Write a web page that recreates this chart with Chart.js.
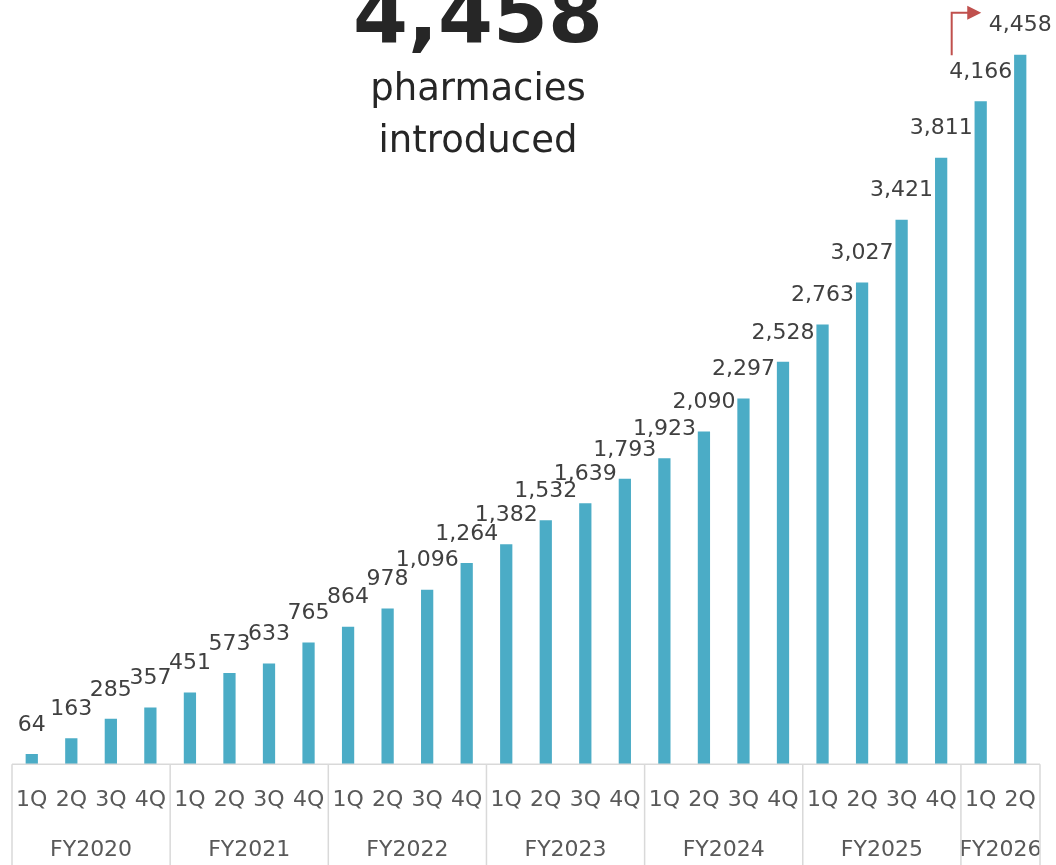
<!DOCTYPE html>
<html>
<head>
<meta charset="utf-8">
<script src="https://cdn.jsdelivr.net/npm/chart.js@4/dist/chart.umd.min.js"></script>
<style>
  body { margin: 0; background: #fff; }
  #wrap { position: relative; width: 1056px; height: 865px; overflow: hidden; }
  .head { position: absolute; left: 0; width: 956px; text-align: center; color: #262626;
          font-family: "DejaVu Sans", Verdana, sans-serif; line-height: 1; white-space: nowrap; }
  #big { top: -24px; font-size: 79px; font-weight: bold; }
  #sub1 { top: 69px; font-size: 37px; }
  #sub2 { top: 121px; font-size: 37px; }
</style>
</head>
<body>
<div id="wrap">
  <canvas id="bar-chart" width="1056" height="865"></canvas>
  <div class="head" id="big">4,458</div>
  <div class="head" id="sub1">pharmacies</div>
  <div class="head" id="sub2">introduced</div>
</div>
<script>
// quarter labels on the first axis row
const quarters = ['1Q', '2Q', '3Q', '4Q', '1Q', '2Q', '3Q', '4Q', '1Q', '2Q', '3Q', '4Q',
  '1Q', '2Q', '3Q', '4Q', '1Q', '2Q', '3Q', '4Q', '1Q', '2Q', '3Q', '4Q', '1Q', '2Q'];
// fiscal years and how many quarters each one has
const fiscalYears = ['FY2020', 'FY2021', 'FY2022', 'FY2023', 'FY2024', 'FY2025', 'FY2026'];
const quartersPerYear = [4, 4, 4, 4, 4, 4, 2];
// pharmacies introduced (cumulative)
const pharmacies = [64, 163, 285, 357, 451, 573, 633, 765, 864, 978, 1096, 1264, 1382,
  1532, 1639, 1793, 1923, 2090, 2297, 2528, 2763, 3027, 3421, 3811, 4166, 4458];

// start index of each year group, plus the end
let bounds = [0];
quartersPerYear.forEach(n => bounds.push(bounds[bounds.length - 1] + n));
const fyCenters = fiscalYears.map((fy, i) => (bounds[i] + bounds[i + 1] - 1) / 2);

const FONT = '"DejaVu Sans", Verdana, sans-serif';
const gridColor = '#d9d9d9';

// let the labels hang over the edges, like the original
const noEdgePadding = s => { s.paddingLeft = 0; s.paddingRight = 0; };

const decorPlugin = {
  id: 'decor',
  afterDatasetsDraw(chart) {
    const ctx = chart.ctx;
    const meta = chart.getDatasetMeta(0);
    ctx.save();
    ctx.font = '22px ' + FONT;
    ctx.fillStyle = '#404040';
    ctx.textAlign = 'center';
    ctx.textBaseline = 'middle';
    meta.data.forEach((bar, i) => {
      ctx.fillText(pharmacies[i].toLocaleString('en-US'), bar.x, bar.y - 29);
    });

    // red arrow from the previous quarter to the latest
    const prev = meta.data[meta.data.length - 2];
    const last = meta.data[meta.data.length - 1];
    const x0 = prev.x - 29, y0 = prev.y - 46;
    const yT = last.y - 42, tip = last.x - 39;
    ctx.strokeStyle = '#c0504d';
    ctx.fillStyle = '#c0504d';
    ctx.lineWidth = 2;
    ctx.beginPath();
    ctx.moveTo(x0, y0);
    ctx.lineTo(x0, yT);
    ctx.lineTo(tip - 12, yT);
    ctx.stroke();
    ctx.beginPath();
    ctx.moveTo(tip - 14, yT - 7);
    ctx.lineTo(tip, yT);
    ctx.lineTo(tip - 14, yT + 7);
    ctx.closePath();
    ctx.fill();
    ctx.restore();
  },
  afterDraw(chart) {
    const ctx = chart.ctx;
    const area = chart.chartArea;
    const fy = chart.scales.fy;
    ctx.save();
    ctx.strokeStyle = gridColor;
    ctx.lineWidth = 1.5;
    ctx.beginPath();
    ctx.moveTo(area.left, area.bottom);
    ctx.lineTo(area.right, area.bottom);
    bounds.forEach(b => {
      const x = fy.getPixelForValue(b - 0.5);
      ctx.moveTo(x, area.bottom);
      ctx.lineTo(x, chart.height);
    });
    ctx.stroke();
    ctx.restore();
  }
};

const barConfig = {
  type: 'bar',
  data: {
    labels: quarters,
    datasets: [
      {
        label: 'pharmacies',
        data: pharmacies,
        backgroundColor: '#4bacc6',
        barPercentage: 0.31,
        categoryPercentage: 1,
      },
    ],
  },
  options: {
    responsive: false,
    animation: false,
    layout: { padding: { top: 48, left: 12, right: 16, bottom: 2 } },
    plugins: { legend: { display: false }, tooltip: { enabled: false } },
    scales: {
      y: { display: false, min: 0, max: 4500 },
      x: {
        position: 'bottom',
        border: { display: false },
        grid: { display: false, drawTicks: false },
        afterFit: noEdgePadding,
        ticks: { color: '#595959', font: { family: FONT, size: 22 }, padding: 23,
          autoSkip: false, maxRotation: 0 },
      },
      fy: {
        type: 'linear',
        position: 'bottom',
        offset: false,
        min: -0.5,
        max: quarters.length - 0.5,
        border: { display: false },
        grid: { display: false, drawTicks: false, offset: false },
        afterBuildTicks: axis => { axis.ticks = fyCenters.map(v => ({ value: v })); },
        afterFit: noEdgePadding,
        ticks: { color: '#595959', font: { family: FONT, size: 22 }, padding: 0,
          autoSkip: false, maxRotation: 0, callback: (v, i) => fiscalYears[i] },
      },
    },
  },
  plugins: [decorPlugin],
};

let ctx = document.getElementById('bar-chart');
const stackedBar = new Chart(ctx, barConfig);
</script>
</body>
</html>
